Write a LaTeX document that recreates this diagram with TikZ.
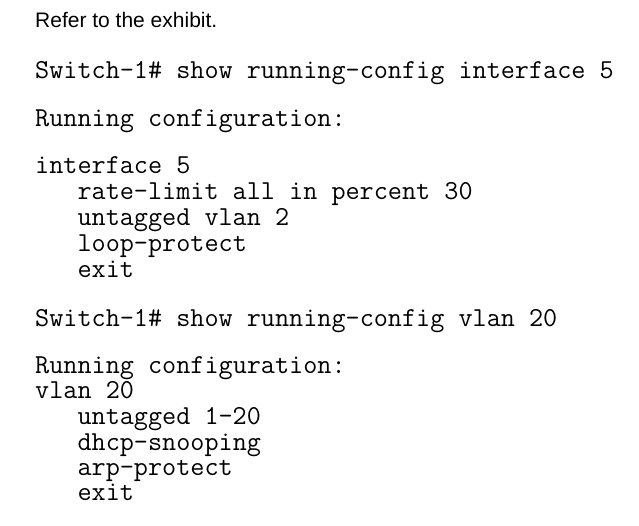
\documentclass[tikz,border=0pt]{standalone}
\usepackage{fontspec}
\setmainfont{Liberation Sans}
\begin{document}
\begin{tikzpicture}[x=1pt,y=-1pt,
  mono/.style={anchor=base west,inner sep=0pt,font=\ttfamily\fontsize{27.4}{25}\selectfont},
  sans/.style={anchor=base west,inner sep=0pt,font=\fontsize{21}{23}\selectfont}]
\useasboundingbox[fill=white] (0,0) rectangle (639,526);
\node[sans] (t0) at (35,28) {Refer to the exhibit.};
\node[mono] (l1) at (35,79) {Switch-1\# show running-config interface 5};
\node[mono] (l2) at (35,127) {Running configuration:};
\node[mono] (l3) at (35,174) {interface 5};
\node[mono] (l4) at (35,200) {\ \ \ rate-limit all in percent 30};
\node[mono] (l5) at (35,226) {\ \ \ untagged vlan 2};
\node[mono] (l6) at (35,252) {\ \ \ loop-protect};
\node[mono] (l7) at (35,277) {\ \ \ exit};
\node[mono] (l8) at (35,326) {Switch-1\# show running-config vlan 20};
\node[mono] (l9) at (35,373) {Running configuration:};
\node[mono] (l10) at (35,398) {vlan 20};
\node[mono] (l11) at (35,424) {\ \ \ untagged 1-20};
\node[mono] (l12) at (35,450) {\ \ \ dhcp-snooping};
\node[mono] (l13) at (35,475) {\ \ \ arp-protect};
\node[mono] (l14) at (35,500) {\ \ \ exit};
\end{tikzpicture}
\end{document}
